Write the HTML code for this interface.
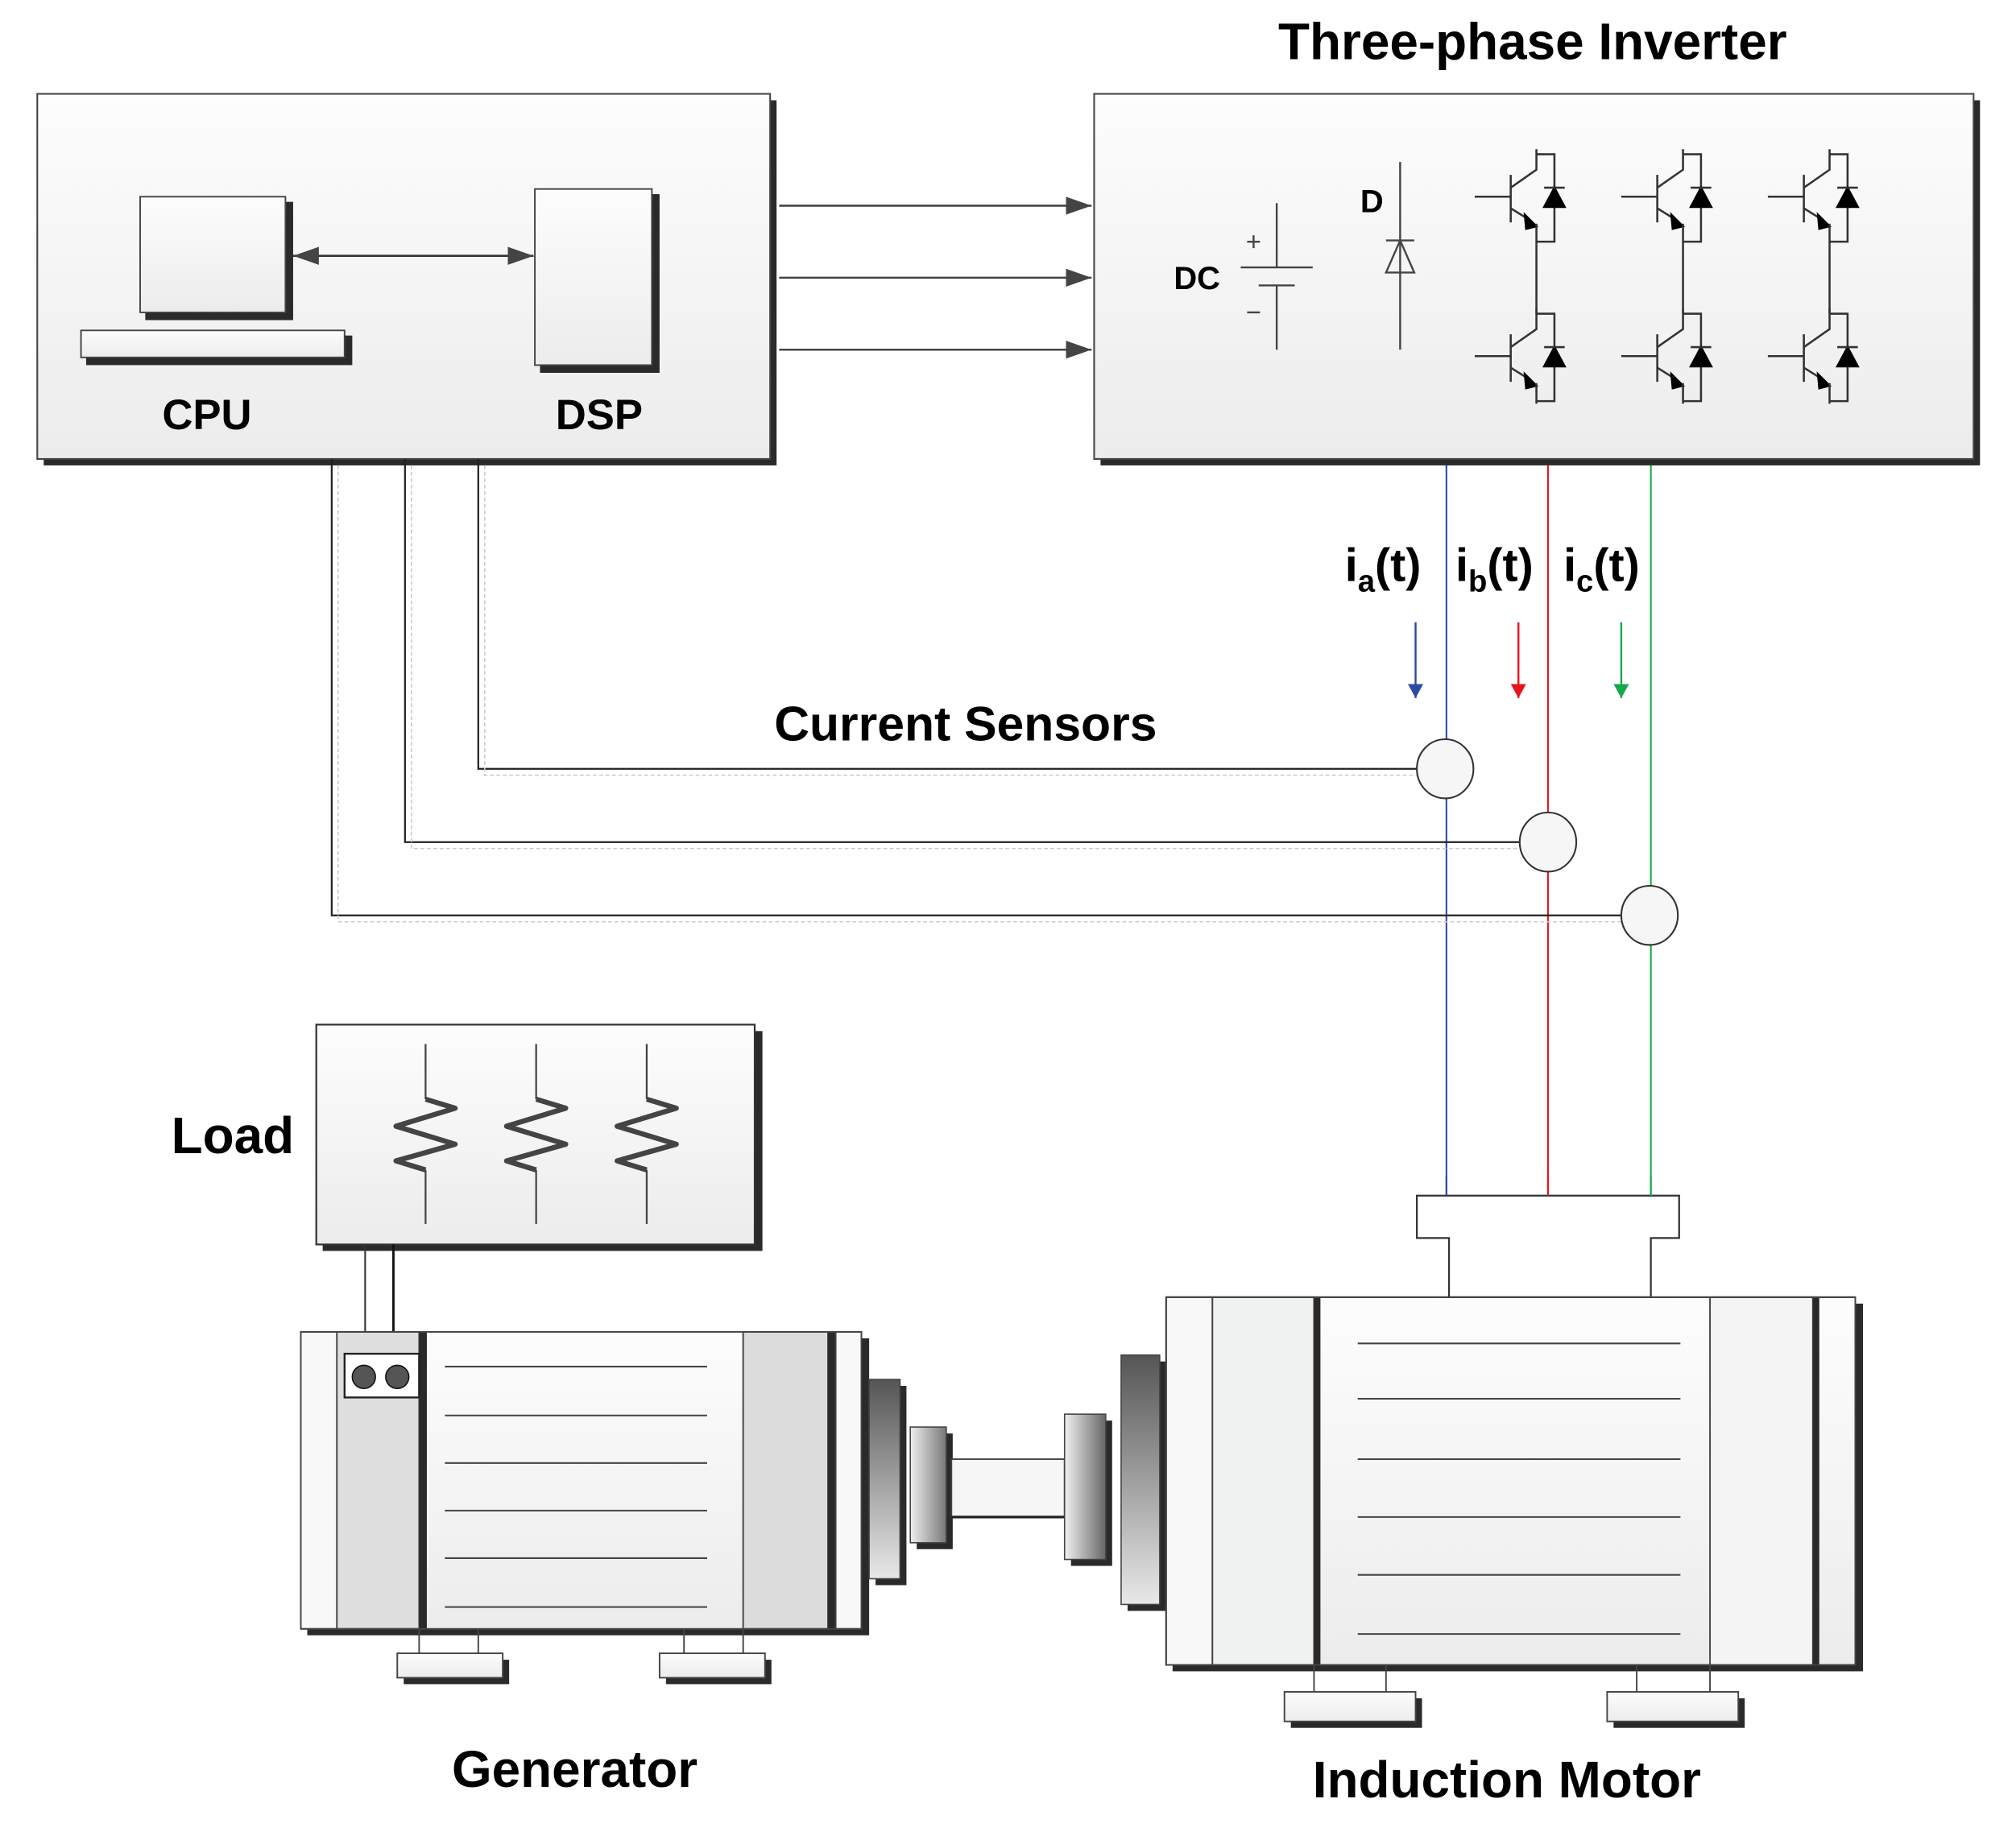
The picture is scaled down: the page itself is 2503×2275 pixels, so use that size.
<!DOCTYPE html>
<html><head><meta charset="utf-8"><style>
html,body{margin:0;padding:0;background:#fff;}
svg{display:block}
text{font-family:"Liberation Sans",sans-serif;font-weight:bold;fill:#000}
</style></head><body>
<svg width="2503" height="2275" viewBox="0 0 1568 1425" preserveAspectRatio="none" xmlns="http://www.w3.org/2000/svg">
<defs>
<linearGradient id="bg" x1="0" y1="0" x2="0" y2="1"><stop offset="0" stop-color="#fdfdfd"/><stop offset="1" stop-color="#ececec"/></linearGradient>
<linearGradient id="dk" x1="0" y1="0" x2="0" y2="1"><stop offset="0" stop-color="#555"/><stop offset="1" stop-color="#e8e8e8"/></linearGradient>
<linearGradient id="hz" x1="0" y1="0" x2="1" y2="0"><stop offset="0" stop-color="#f0f0f0"/><stop offset="1" stop-color="#666"/></linearGradient>
<linearGradient id="hz2" x1="0" y1="0" x2="1" y2="0"><stop offset="0" stop-color="#eee"/><stop offset="1" stop-color="#777"/></linearGradient>
<marker id="ah2" markerWidth="22" markerHeight="14" refX="20" refY="7" orient="auto-start-reverse" markerUnits="userSpaceOnUse"><path d="M0,0 L20,7 L0,14 z" fill="#444"/></marker>
<marker id="ab" markerWidth="12" markerHeight="12" refX="6" refY="11" orient="0" markerUnits="userSpaceOnUse"><path d="M0,0 L12,0 L6,11 z" fill="#2a4aa8"/></marker>
<marker id="ar" markerWidth="12" markerHeight="12" refX="6" refY="11" orient="0" markerUnits="userSpaceOnUse"><path d="M0,0 L12,0 L6,11 z" fill="#e8141c"/></marker>
<marker id="ag" markerWidth="12" markerHeight="12" refX="6" refY="11" orient="0" markerUnits="userSpaceOnUse"><path d="M0,0 L12,0 L6,11 z" fill="#14a84a"/></marker>
<g id="igbt" stroke="#333" stroke-width="1.6" fill="none">
<line x1="1147" y1="153" x2="1175" y2="153"/>
<line x1="1175" y1="136" x2="1175" y2="173"/>
<polyline points="1175,146 1195,132 1195,116"/>
<polyline points="1195,120 1209,120 1209,188 1195,188"/>
<polyline points="1175,162 1191,172"/>
<path d="M1186,167 L1195,176 L1187,178 z" fill="#000" stroke="#000"/>
<line x1="1195" y1="174" x2="1195" y2="190"/>
<path d="M1209,146 L1201,161 L1217,161 z" fill="#000" stroke="#000"/>
<line x1="1201" y1="146" x2="1217" y2="146"/>
</g>
</defs>

<!-- left box -->
<rect x="34" y="78" width="570" height="284" fill="#2a2a2a"/>
<rect x="29" y="73" width="570" height="284" fill="url(#bg)" stroke="#444" stroke-width="1.3"/>
<rect x="113" y="157" width="115" height="92" fill="#2a2a2a"/>
<rect x="109" y="153" width="113" height="90" fill="url(#bg)" stroke="#444" stroke-width="1.2"/>
<rect x="67" y="261" width="207" height="23" fill="#2a2a2a"/>
<rect x="63" y="257" width="205" height="21" fill="url(#bg)" stroke="#444" stroke-width="1.2"/>
<rect x="420" y="151" width="93" height="139" fill="#2a2a2a"/>
<rect x="416" y="147" width="91" height="137" fill="url(#bg)" stroke="#444" stroke-width="1.2"/>
<line x1="228" y1="199" x2="415" y2="199" stroke="#333" stroke-width="1.6" marker-start="url(#ah2)" marker-end="url(#ah2)"/>
<text x="161" y="334" font-size="33" text-anchor="middle">CPU</text>
<text x="466" y="334" font-size="33" text-anchor="middle">DSP</text>

<g stroke="#444" stroke-width="1.6">
<line x1="606" y1="160" x2="849" y2="160" marker-end="url(#ah2)"/>
<line x1="606" y1="216" x2="849" y2="216" marker-end="url(#ah2)"/>
<line x1="606" y1="272" x2="849" y2="272" marker-end="url(#ah2)"/>
</g>

<!-- inverter -->
<text x="1192" y="46" font-size="40" text-anchor="middle">Three-phase Inverter</text>
<rect x="856" y="78" width="684" height="284" fill="#2a2a2a"/>
<rect x="851" y="73" width="684" height="284" fill="url(#bg)" stroke="#444" stroke-width="1.3"/>
<text x="931" y="225" font-size="25" text-anchor="middle">DC</text>
<text x="1067" y="165" font-size="25" text-anchor="middle">D</text>
<g stroke="#444" stroke-width="1.5" fill="none">
<line x1="993" y1="158" x2="993" y2="208"/>
<line x1="965" y1="208" x2="1021" y2="208"/>
<line x1="979" y1="222" x2="1007" y2="222"/>
<line x1="993" y1="222" x2="993" y2="272"/>
<line x1="970" y1="188" x2="980" y2="188"/><line x1="975" y1="183" x2="975" y2="193"/>
<line x1="970" y1="243" x2="980" y2="243"/>
<line x1="1089" y1="126" x2="1089" y2="272"/>
<path d="M1078,212 L1089,187 L1100,212 z"/>
<line x1="1078" y1="187" x2="1100" y2="187"/>
</g>
<use href="#igbt"/>
<use href="#igbt" transform="translate(0,124)"/>
<use href="#igbt" transform="translate(114,0)"/>
<use href="#igbt" transform="translate(114,124)"/>
<use href="#igbt" transform="translate(228,0)"/>
<use href="#igbt" transform="translate(228,124)"/>
<g stroke="#333" stroke-width="1.6">
<line x1="1195" y1="190" x2="1195" y2="244"/>
<line x1="1309" y1="190" x2="1309" y2="244"/>
<line x1="1423" y1="190" x2="1423" y2="244"/>
</g>

<!-- phase lines -->
<line x1="1125" y1="362" x2="1125" y2="930" stroke="#2a4aa8" stroke-width="1.3"/>
<line x1="1204" y1="362" x2="1204" y2="930" stroke="#e8141c" stroke-width="1.3"/>
<line x1="1284" y1="362" x2="1284" y2="930" stroke="#14a84a" stroke-width="1.3"/>
<text x="1046" y="452" font-size="36">i<tspan font-size="24" dy="8">a</tspan><tspan dy="-8">(t)</tspan></text>
<text x="1132" y="452" font-size="36">i<tspan font-size="24" dy="8">b</tspan><tspan dy="-8">(t)</tspan></text>
<text x="1216" y="452" font-size="36">i<tspan font-size="24" dy="8">c</tspan><tspan dy="-8">(t)</tspan></text>
<line x1="1101" y1="484" x2="1101" y2="543" stroke="#2a4aa8" stroke-width="1.5" marker-end="url(#ab)"/>
<line x1="1181" y1="484" x2="1181" y2="543" stroke="#e8141c" stroke-width="1.5" marker-end="url(#ar)"/>
<line x1="1261" y1="484" x2="1261" y2="543" stroke="#14a84a" stroke-width="1.5" marker-end="url(#ag)"/>

<text x="751" y="576" font-size="38" text-anchor="middle">Current Sensors</text>
<g stroke="#222" stroke-width="1.4" fill="none">
<polyline points="372,357 372,598 1102,598"/>
<polyline points="315,357 315,655 1182,655"/>
<polyline points="258,357 258,712 1261,712"/>
</g>
<g stroke="#ccc" stroke-width="1" fill="none" stroke-dasharray="3,2">
<polyline points="377,362 377,603 1102,603"/>
<polyline points="320,362 320,660 1182,660"/>
<polyline points="263,362 263,717 1261,717"/>
</g>
<g stroke="#333" stroke-width="1.3" fill="#f6f6f6">
<ellipse cx="1124" cy="598" rx="22" ry="23"/>
<ellipse cx="1204" cy="655" rx="22" ry="23"/>
<ellipse cx="1283" cy="712" rx="22" ry="23"/>
</g>

<!-- load -->
<text x="181" y="897" font-size="40" text-anchor="middle">Load</text>
<rect x="251" y="802" width="342" height="171" fill="#2a2a2a"/>
<rect x="246" y="797" width="341" height="171" fill="url(#bg)" stroke="#333" stroke-width="1.4"/>
<g stroke="#444" stroke-width="1.4" fill="none">
<line x1="331" y1="812" x2="331" y2="855"/><line x1="331" y1="910" x2="331" y2="952"/>
<line x1="417" y1="812" x2="417" y2="855"/><line x1="417" y1="910" x2="417" y2="952"/>
<line x1="503" y1="812" x2="503" y2="855"/><line x1="503" y1="910" x2="503" y2="952"/>
</g>
<g stroke="#444" stroke-width="4" fill="none" stroke-linejoin="round">
<polyline points="331,855 354,862 308,876 354,890 308,903 331,910"/>
<polyline points="417,855 440,862 394,876 440,890 394,903 417,910"/>
<polyline points="503,855 526,862 480,876 526,890 480,903 503,910"/>
</g>
<line x1="284" y1="968" x2="284" y2="1070" stroke="#333" stroke-width="1.3"/>
<line x1="306" y1="968" x2="306" y2="1070" stroke="#111" stroke-width="1.8"/>

<!-- generator -->
<rect x="239" y="1041" width="437" height="231" fill="#2a2a2a"/>
<rect x="234" y="1036" width="410" height="231" fill="#f8f8f8" stroke="#444" stroke-width="1.2"/>
<rect x="262" y="1036" width="64" height="231" fill="#dedede" stroke="#444" stroke-width="1.2"/>
<rect x="326" y="1036" width="6" height="231" fill="#2a2a2a"/>
<rect x="332" y="1036" width="246" height="231" fill="url(#bg)"/>
<rect x="578" y="1036" width="66" height="231" fill="#dcdcdc" stroke="#444" stroke-width="1.2"/>
<rect x="644" y="1036" width="6" height="231" fill="#2a2a2a"/>
<rect x="650" y="1036" width="20" height="231" fill="#f8f8f8" stroke="#444" stroke-width="1.2"/>
<rect x="234" y="1036" width="436" height="231" fill="none" stroke="#444" stroke-width="1.2"/>
<g stroke="#444" stroke-width="1.3">
<line x1="346" y1="1063" x2="550" y2="1063"/><line x1="346" y1="1101" x2="550" y2="1101"/>
<line x1="346" y1="1138" x2="550" y2="1138"/><line x1="346" y1="1175" x2="550" y2="1175"/>
<line x1="346" y1="1212" x2="550" y2="1212"/><line x1="346" y1="1250" x2="550" y2="1250"/>
</g>
<rect x="268" y="1053" width="58" height="34" fill="#fff" stroke="#222" stroke-width="1.5"/>
<circle cx="283" cy="1071" r="9" fill="#555" stroke="#111"/>
<circle cx="309" cy="1071" r="9" fill="#555" stroke="#111"/>
<g stroke="#444" stroke-width="1.2">
<line x1="326" y1="1267" x2="326" y2="1286"/><line x1="372" y1="1267" x2="372" y2="1286"/>
<line x1="532" y1="1267" x2="532" y2="1286"/><line x1="578" y1="1267" x2="578" y2="1286"/>
</g>
<rect x="314" y="1291" width="82" height="19" fill="#2a2a2a"/>
<rect x="309" y="1286" width="82" height="19" fill="url(#bg)" stroke="#444" stroke-width="1.2"/>
<rect x="518" y="1291" width="82" height="19" fill="#2a2a2a"/>
<rect x="513" y="1286" width="82" height="19" fill="url(#bg)" stroke="#444" stroke-width="1.2"/>
<text x="447" y="1390" font-size="40" text-anchor="middle">Generator</text>

<!-- shaft & couplings -->
<rect x="681" y="1078" width="24" height="155" fill="#2a2a2a"/>
<rect x="676" y="1073" width="24" height="155" fill="url(#dk)" stroke="#444"/>
<rect x="713" y="1115" width="28" height="90" fill="#2a2a2a"/>
<rect x="708" y="1110" width="28" height="90" fill="url(#hz2)" stroke="#444"/>
<rect x="740" y="1135" width="88" height="45" fill="#f6f6f6" stroke="#444" stroke-width="1.2"/>
<line x1="740" y1="1180" x2="828" y2="1180" stroke="#222" stroke-width="2"/>
<rect x="833" y="1105" width="32" height="113" fill="#2a2a2a"/>
<rect x="828" y="1100" width="32" height="113" fill="url(#hz)" stroke="#444"/>
<rect x="877" y="1059" width="30" height="194" fill="#2a2a2a"/>
<rect x="872" y="1054" width="30" height="194" fill="url(#dk)" stroke="#444"/>

<!-- motor -->
<rect x="912" y="1014" width="537" height="286" fill="#2a2a2a"/>
<rect x="907" y="1009" width="536" height="286" fill="url(#bg)" stroke="#444" stroke-width="1.2"/>
<rect x="907" y="1009" width="36" height="286" fill="#f8f8f8" stroke="#444" stroke-width="1.2"/>
<rect x="943" y="1009" width="79" height="286" fill="#f0f2f2" stroke="#444" stroke-width="1.2"/>
<rect x="1022" y="1009" width="5" height="286" fill="#2a2a2a"/>
<rect x="1330" y="1009" width="80" height="286" fill="#f4f4f4" stroke="#444" stroke-width="1.2"/>
<rect x="1410" y="1009" width="5" height="286" fill="#2a2a2a"/>
<rect x="907" y="1009" width="536" height="286" fill="none" stroke="#444" stroke-width="1.2"/>
<g stroke="#444" stroke-width="1.3">
<line x1="1056" y1="1045" x2="1307" y2="1045"/><line x1="1056" y1="1088" x2="1307" y2="1088"/>
<line x1="1056" y1="1135" x2="1307" y2="1135"/><line x1="1056" y1="1180" x2="1307" y2="1180"/>
<line x1="1056" y1="1225" x2="1307" y2="1225"/><line x1="1056" y1="1271" x2="1307" y2="1271"/>
</g>
<g stroke="#444" stroke-width="1.2">
<line x1="1022" y1="1295" x2="1022" y2="1316"/><line x1="1078" y1="1295" x2="1078" y2="1316"/>
<line x1="1273" y1="1295" x2="1273" y2="1316"/><line x1="1330" y1="1295" x2="1330" y2="1316"/>
</g>
<rect x="1004" y="1321" width="102" height="23" fill="#2a2a2a"/>
<rect x="999" y="1316" width="102" height="23" fill="url(#bg)" stroke="#444" stroke-width="1.2"/>
<rect x="1255" y="1321" width="102" height="23" fill="#2a2a2a"/>
<rect x="1250" y="1316" width="102" height="23" fill="url(#bg)" stroke="#444" stroke-width="1.2"/>
<polygon points="1102,930 1306,930 1306,963 1284,963 1284,1009 1127,1009 1127,963 1102,963" fill="#fff" stroke="#333" stroke-width="1.4"/>
<line x1="1125" y1="915" x2="1125" y2="930" stroke="#2a4aa8" stroke-width="1.3"/>
<line x1="1204" y1="915" x2="1204" y2="930" stroke="#e8141c" stroke-width="1.3"/>
<line x1="1284" y1="915" x2="1284" y2="930" stroke="#14a84a" stroke-width="1.3"/>
<line x1="907" y1="1009" x2="1443" y2="1009" stroke="#444" stroke-width="1.2"/>
<text x="1172" y="1398" font-size="40" text-anchor="middle">Induction Motor</text>
</svg>
</body></html>
